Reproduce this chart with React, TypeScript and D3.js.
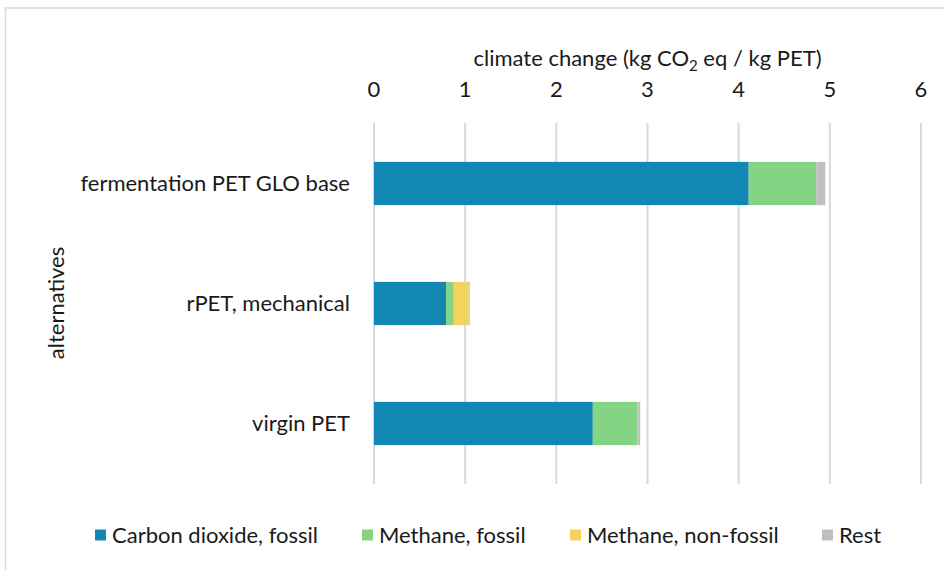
import React from "react";
import * as d3 from "d3";

// Alternatives compared (top to bottom)
const categories = ["fermentation PET GLO base", "rPET, mechanical", "virgin PET"];

// Contribution of each emission type, kg CO2 eq / kg PET
const seriesNames = ["Carbon dioxide, fossil", "Methane, fossil", "Methane, non-fossil", "Rest"];
const co2Fossil = [4.11, 0.79, 2.40];
const methaneFossil = [0.74, 0.085, 0.49];
const methaneNonFossil = [0.0, 0.165, 0.0];
const rest = [0.1, 0.01, 0.03];

const seriesColors = ["#1287b1", "#85d384", "#f3d35b", "#bfbfbf"];
const xTicks = [0, 1, 2, 3, 4, 5, 6];

const W = 944;
const H = 570;
const FONT = "Lato, 'Noto Sans', sans-serif";
const FS = 22;
const TEXT = "#1a1a1a";

export default function App() {
  const values = [co2Fossil, methaneFossil, methaneNonFossil, rest];
  const rows = categories.map((c, i) => {
    const r: Record<string, number | string> = { category: c };
    seriesNames.forEach((s, k) => (r[s] = values[k][i]));
    return r;
  });
  const stacked = d3.stack<any>().keys(seriesNames)(rows);

  const x = d3.scaleLinear().domain([0, 6]).range([374, 921]);
  const y = d3
    .scaleBand<string>()
    .domain(categories)
    .range([123.5, 483.5])
    .paddingInner(0.64)
    .paddingOuter(0.32);

  const legendX = [95, 362, 570, 822];

  return (
    <svg
      width={W}
      height={H}
      style={{ position: "absolute", left: 0, top: 0, fontFamily: FONT }}
    >
      <rect x={0} y={0} width={W} height={H} fill="#fff" />
      <path d={`M5.5,${H} V8 H${W}`} fill="none" stroke="#d9d9d9" strokeWidth={1.5} />

      {/* vertical gridlines */}
      {xTicks.map((t) => (
        <line
          key={t}
          x1={x(t)}
          x2={x(t)}
          y1={123}
          y2={484}
          stroke="#d9d9d9"
          strokeWidth={2}
        />
      ))}

      {/* stacked bars */}
      {stacked.map((layer, k) => (
        <g key={layer.key} fill={seriesColors[k]}>
          {layer.map((d, i) => (
            <rect
              key={i}
              x={x(d[0])}
              y={y(categories[i])}
              width={Math.max(0, x(d[1]) - x(d[0]))}
              height={y.bandwidth()}
            />
          ))}
        </g>
      ))}

      {/* top axis tick labels */}
      {xTicks.map((t) => (
        <text
          key={t}
          x={x(t)}
          y={97}
          textAnchor="middle"
          fontSize={FS}
          fill={TEXT}
        >
          {t}
        </text>
      ))}

      {/* axis title */}
      <text x={647.5} y={66} textAnchor="middle" fontSize={FS} fill={TEXT}>
        climate change (kg CO
        <tspan fontSize={15} dy={5}>2</tspan>
        <tspan dy={-5}> eq / kg PET)</tspan>
      </text>

      {/* category labels */}
      {categories.map((c) => (
        <text
          key={c}
          x={350}
          y={(y(c) ?? 0) + y.bandwidth() / 2 + 7}
          textAnchor="end"
          fontSize={FS}
          fill={TEXT}
        >
          {c}
        </text>
      ))}

      {/* vertical axis title */}
      <text
        transform={`translate(64,303) rotate(-90)`}
        textAnchor="middle"
        fontSize={FS}
        fill={TEXT}
      >
        alternatives
      </text>

      {/* legend */}
      {seriesNames.map((s, k) => (
        <g key={s} transform={`translate(${legendX[k]},535)`}>
          <rect x={0} y={-5.5} width={11} height={11} fill={seriesColors[k]} />
          <text x={17} y={8} fontSize={FS} fill={TEXT}>
            {s}
          </text>
        </g>
      ))}
    </svg>
  );
}
